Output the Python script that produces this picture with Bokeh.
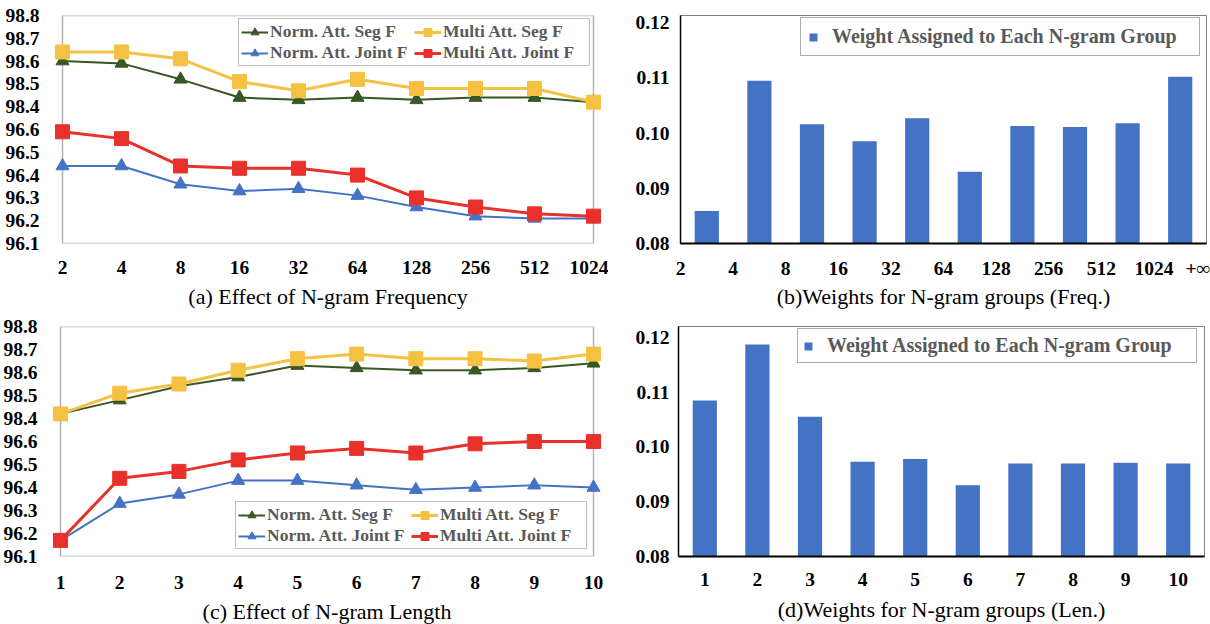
from bokeh.plotting import figure
from bokeh.models import Range1d, FixedTicker, Legend, LegendItem, BoxAnnotation, Title
from bokeh.layouts import column, row
from bokeh.embed import file_html
from bokeh.resources import INLINE

# ---------------- data ----------------
freq_labels = ["2", "4", "8", "16", "32", "64", "128", "256", "512", "1024"]
freq_norm_seg = [98.60, 98.59, 98.52, 98.44, 98.43, 98.44, 98.43, 98.44, 98.44, 98.42]
freq_multi_seg = [98.64, 98.64, 98.61, 98.51, 98.47, 98.52, 98.48, 98.48, 98.48, 98.42]
freq_norm_joint = [96.44, 96.44, 96.36, 96.33, 96.34, 96.31, 96.26, 96.22, 96.21, 96.21]
freq_multi_joint = [96.59, 96.56, 96.44, 96.43, 96.43, 96.40, 96.30, 96.26, 96.23, 96.22]

len_labels = ["1", "2", "3", "4", "5", "6", "7", "8", "9", "10"]
len_norm_seg = [98.42, 98.48, 98.54, 98.58, 98.63, 98.62, 98.61, 98.61, 98.62, 98.64]
len_multi_seg = [98.42, 98.51, 98.55, 98.61, 98.66, 98.68, 98.66, 98.66, 98.65, 98.68]
len_norm_joint = [96.17, 96.33, 96.37, 96.43, 96.43, 96.41, 96.39, 96.40, 96.41, 96.40]
len_multi_joint = [96.17, 96.44, 96.47, 96.52, 96.55, 96.57, 96.55, 96.59, 96.60, 96.60]

y_lower_labels = [96.1, 96.2, 96.3, 96.4, 96.5, 96.6]
y_upper_labels = [98.4, 98.5, 98.6, 98.7, 98.8]

freq_group_edges = ["2", "4", "8", "16", "32", "64", "128", "256", "512", "1024", "+∞"]
weights_freq = [0.0859, 0.1095, 0.1016, 0.0985, 0.1027, 0.0930, 0.1013, 0.1011, 0.1018, 0.1102]
len_groups = ["1", "2", "3", "4", "5", "6", "7", "8", "9", "10"]
weights_len = [0.1085, 0.1187, 0.1055, 0.0973, 0.0978, 0.0930, 0.0970, 0.0970, 0.0971, 0.0970]
bar_y_ticks = [0.08, 0.09, 0.10, 0.11, 0.12]

series_names = ["Norm. Att. Seg F", "Norm. Att. Joint F", "Multi Att. Seg F", "Multi Att. Joint F"]
legend_bar = "Weight Assigned to Each N-gram Group"

# ---------------- style ----------------
SERIF = "Liberation Serif"
GREEN = "#385723"
BLUE = "#4472C4"
YELLOW = "#F5C142"
RED = "#E8312A"
BAR = "#4472C4"
TICK_FS = "19.5px"
CAP_FS = "22px"


def brk(v):
    # broken axis: 96.1..96.6 continues directly with 98.4..98.8
    return round(v - 98.4 + 96.7, 6) if v > 97.5 else round(v, 6)


def style_axes(p, tick_standoff_x, tick_standoff_y, cap, cap_gap):
    for ax in (p.xaxis[0], p.yaxis[0]):
        ax.major_tick_line_color = None
        ax.minor_tick_line_color = None
        ax.major_label_text_font = SERIF
        ax.major_label_text_font_style = "bold"
        ax.major_label_text_font_size = TICK_FS
        ax.major_label_text_color = "black"
    p.xaxis.major_label_standoff = tick_standoff_x
    p.yaxis.major_label_standoff = tick_standoff_y
    # invisible spacer between the tick labels and the caption
    p.xaxis.axis_label = " "
    p.xaxis.axis_label_text_font_size = "1px"
    p.xaxis.axis_label_standoff = cap_gap
    p.xgrid.visible = False
    p.ygrid.visible = False
    p.add_layout(Title(text=cap, align="center", standoff=-10,
                       vertical_align="top",
                       text_font=SERIF, text_font_size=CAP_FS, text_font_style="normal",
                       text_color="black"), "below")


def line_panel(labels, ns, ms, nj, mj, cap, W, H, mbl, mbr, mbt, mbb, pad_px,
               leg_loc, tsx, tsy, cap_gap):
    n = len(labels)
    frame_w = W - mbl - mbr
    box_w = frame_w - 2 * pad_px
    pad = pad_px * (n - 1) / box_w
    yt = [brk(v) for v in y_lower_labels + y_upper_labels]
    p = figure(width=W, height=H, output_backend="svg", toolbar_location=None,
               x_range=Range1d(-pad, n - 1 + pad), y_range=Range1d(yt[0], yt[-1]),
               min_border_left=mbl, min_border_right=mbr, min_border_top=mbt,
               min_border_bottom=mbb)
    p.outline_line_color = None
    p.background_fill_color = "white"
    p.add_layout(BoxAnnotation(left=0, right=n - 1, bottom=yt[0], top=yt[-1],
                               fill_color=None, fill_alpha=0, line_color="black",
                               line_width=1.5, level="underlay"))
    xs = list(range(n))
    rs = []
    specs = [(ns, GREEN, 2, "triangle", 13), (nj, BLUE, 2, "triangle", 13),
             (ms, YELLOW, 3, "square", 14), (mj, RED, 3, "square", 14)]
    for vals, col, lw, mk, sz in specs:
        ys = [brk(v) for v in vals]
        l = p.line(xs, ys, line_color=col, line_width=lw)
        s = p.scatter(xs, ys, marker=mk, size=sz, fill_color=col, line_color=col)
        rs.append([l, s])
    items = [LegendItem(label=nm, renderers=r) for nm, r in zip(series_names, rs)]
    leg = Legend(items=items, location=leg_loc, ncols=2,
                 label_text_font=SERIF, label_text_font_style="bold",
                 label_text_font_size="17.5px", label_text_color="#595959",
                 glyph_width=27, glyph_height=20, label_standoff=2, label_width=144,
                 spacing=0, padding=2, margin=0,
                 border_line_color="#7F7F7F", border_line_width=1,
                 background_fill_color="white", background_fill_alpha=1)
    p.add_layout(leg, "center")
    style_axes(p, tsx, tsy, cap, cap_gap)
    p.xaxis.axis_line_color = None
    p.yaxis.axis_line_color = None
    p.xaxis.ticker = FixedTicker(ticks=xs)
    p.xaxis.major_label_overrides = {i: lab for i, lab in enumerate(labels)}
    p.yaxis.ticker = FixedTicker(ticks=yt)
    p.yaxis.major_label_overrides = {t: f"{v:.1f}" for t, v in
                                     zip(yt, y_lower_labels + y_upper_labels)}
    return p


def bar_panel(weights, tick_pos, tick_labels, x_rng, xs, ytop, cap, W, H,
              mbl, mbr, mbt, mbb, leg_loc, leg_pad, tsx, tsy, cap_gap):
    p = figure(width=W, height=H, output_backend="svg", toolbar_location=None,
               x_range=Range1d(*x_rng), y_range=Range1d(bar_y_ticks[0], ytop),
               min_border_left=mbl, min_border_right=mbr, min_border_top=mbt,
               min_border_bottom=mbb)
    p.outline_line_color = "#7F7F7F"
    p.outline_line_width = 1
    r = p.vbar(x=xs, top=weights, bottom=bar_y_ticks[0], width=0.46,
               fill_color=BAR, line_color=None)
    leg = Legend(items=[LegendItem(label=legend_bar, renderers=[r])], location=leg_loc,
                 label_text_font=SERIF, label_text_font_style="bold",
                 label_text_font_size="20px", label_text_color="#595959",
                 glyph_width=10, glyph_height=10, label_standoff=14,
                 label_width=374 - 2 * leg_pad,
                 padding=leg_pad, margin=0, border_line_color="#595959", border_line_width=1,
                 background_fill_color="white", background_fill_alpha=1)
    p.add_layout(leg, "center")
    style_axes(p, tsx, tsy, cap, cap_gap)
    p.xaxis.axis_line_color = "black"
    p.xaxis.axis_line_width = 2
    p.yaxis.axis_line_color = "black"
    p.yaxis.axis_line_width = 1.5
    p.xaxis.ticker = FixedTicker(ticks=tick_pos)
    p.xaxis.major_label_overrides = {t: lab for t, lab in zip(tick_pos, tick_labels)}
    p.yaxis.ticker = FixedTicker(ticks=bar_y_ticks)
    p.yaxis.major_label_overrides = {t: f"{t:.2f}" for t in bar_y_ticks}
    return p


pa = line_panel(freq_labels, freq_norm_seg, freq_multi_seg, freq_norm_joint, freq_multi_joint,
                "(a) Effect of N-gram Frequency", 608, 310, 52, 5, 15, 67, 10,
                (186, 177), 11, 7, 8)
pc = line_panel(len_labels, len_norm_seg, len_multi_seg, len_norm_joint, len_multi_joint,
                "(c) Effect of N-gram Length", 608, 314, 50, 5, 15, 68, 10,
                (185, 7), 13, 7, 8)

nf = len(weights_freq)
freq_tick_pos = [float(i) for i in range(nf)] + [nf - 0.15]
pb = bar_panel(weights_freq, freq_tick_pos, freq_group_edges, (0, nf),
               [i + 0.5 for i in range(nf)], 0.1213,
               "(b)Weights for N-gram groups (Freq.)", 602, 310, 72, 4, 15, 67,
               (120, 187), 7, 8, 5, 3)
nl = len(weights_len)
len_pos = [i + 1 for i in range(nl)]
pd_ = bar_panel(weights_len, len_pos, len_groups, (0.5, nl + 0.5), len_pos, 0.1220,
                "(d)Weights for N-gram groups (Len.)", 602, 314, 70, 6, 16, 68,
                (119, 193), 5, 10, 3, 9)

layout = column(row(pa, pb), row(pc, pd_))
open("out.html", "w").write(file_html(layout, INLINE))
